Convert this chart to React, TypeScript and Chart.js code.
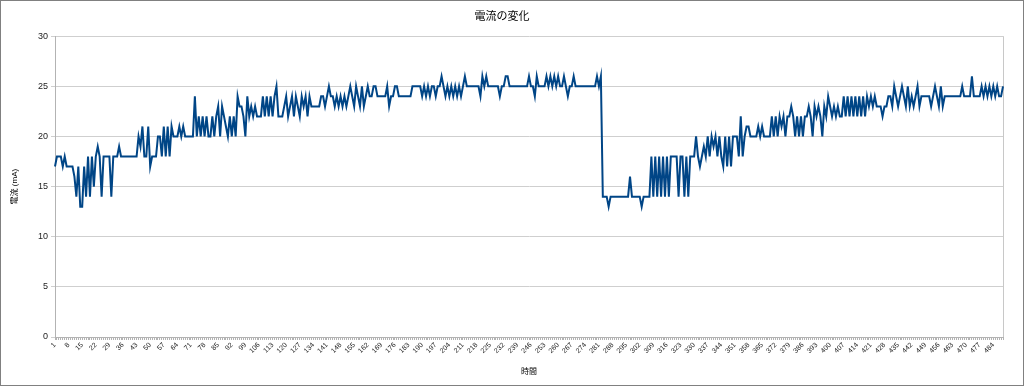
import { useEffect, useRef } from "react";
import { Chart, registerables } from "chart.js";

Chart.register(...registerables);

const FONT = '"Liberation Sans", "DejaVu Sans", "Noto Sans CJK JP", sans-serif';

const chartTitle = "電流の変化";
const yAxisTitle = "電流 (mA)";
const xAxisTitle = "時間";

// 電流 (mA) — first run, samples 1–282
const currentA = [
  17, 18, 18, 18, 17, 18, 17, 17, 17, 17,
  16, 14, 17, 13, 13, 17, 14, 18, 14, 18,
  15, 18, 19, 18, 14, 18, 18, 18, 18, 14,
  18, 18, 18, 19, 18, 18, 18, 18, 18, 18,
  18, 18, 18,
];
const currentB = [
  20, 19, 21, 18, 18, 21, 17, 18, 18, 18,
  20, 20, 18, 21, 18, 21, 18, 21, 20, 20,
  20, 21, 20, 21, 20, 20, 20, 20, 20, 24,
  20, 22, 20, 22, 20, 22, 20, 20, 22, 20,
  22, 23, 20, 23, 22,
];
const currentC = [
  21, 20, 22, 20, 22, 20, 24, 23, 23, 22,
  20, 24, 22, 23, 22, 23, 22, 22, 22, 24,
  22, 24, 22, 24, 22, 24, 25, 22, 22, 22,
  23, 24, 22, 23, 24, 22, 24, 23, 22, 24,
  23, 24, 22, 24, 23, 23,
];
const currentD = [
  23, 23, 23, 24, 24, 23, 24, 25, 24, 24,
  23, 24, 23, 24, 23, 24, 23, 24, 25, 24,
  23, 25, 24, 23, 25, 23, 24, 25, 24, 24,
  25, 25, 24, 24, 24, 24, 24, 25, 23, 24,
  24, 25, 25, 24, 24,
];
const currentE = [
  24, 24, 24, 24, 24, 25, 25, 25, 25, 25,
  24, 25, 24, 25, 24, 25, 25, 24, 25, 25,
  26, 25, 24, 25, 24, 25, 24, 25, 24, 25,
  24, 25, 26, 25, 25, 25, 25, 25, 25, 25,
  24, 26, 25, 26, 25, 25,
];
const currentF = [
  25, 25, 25, 25, 24, 25, 25, 26, 26, 25,
  25, 25, 25, 25, 25, 25, 25, 25, 25, 26,
  25, 25, 24, 26, 25, 25, 25, 25, 26, 25,
  26, 25, 26, 25, 26, 25, 25, 26, 25, 24,
  25, 25, 26, 25, 25,
];
const currentG = [25, 25, 25, 25, 25, 25, 25, 25, 25, 26, 25, 26];

// second run, samples 283–489
const currentH = [
  14, 14, 14, 13, 14, 14, 14, 14, 14, 14,
  14, 14, 14, 14, 16, 14, 14, 14, 14, 14,
  13, 14, 14, 14, 14, 18, 14, 18, 14, 18,
  14, 18, 14, 18,
];
const currentI = [
  14, 18, 18, 18, 18, 14, 18, 18, 14, 18,
  14, 18, 18, 18, 20, 18, 17, 18, 19, 18,
  20, 18, 20, 19, 20, 18, 20, 18, 17, 20,
  17, 20, 17, 20, 20, 20, 18, 22, 18, 20,
  21, 21, 20, 20, 20,
];
const currentJ = [
  20, 21, 20, 21, 20, 20, 20, 20, 22, 20,
  22, 20, 22, 21, 22, 20, 22, 22, 23, 22,
  20, 22, 20, 22, 20, 22, 22, 23, 22, 20,
  23, 22, 23, 22, 20, 23, 22, 24, 23, 22,
  23, 22, 23, 22, 22,
];
const currentK = [
  24, 22, 24, 22, 24, 22, 24, 22, 24, 22,
  24, 22, 24, 23, 24, 23, 24, 23, 23, 23,
  22, 23, 23, 24, 24, 23, 25, 24, 23, 24,
  25, 24, 23, 25, 23, 24, 23, 24, 25, 23,
  24, 24, 24, 24, 24, 23,
];
const currentL = [
  24, 25, 24, 23, 25, 23, 24, 24, 24, 24,
  24, 24, 24, 24, 24, 25, 24, 24, 24, 24,
  26, 24, 24, 24, 24, 25, 24, 25, 24, 25,
  24, 25, 24, 25, 24, 24, 25,
];

const current = [
  ...currentA, ...currentB, ...currentC, ...currentD, ...currentE, ...currentF, ...currentG,
  ...currentH, ...currentI, ...currentJ, ...currentK, ...currentL,
];

// time axis categories 1..N, label shown every 7th sample
const timeLabels = current.map((_, i) => String(i + 1));
const labelStep = 7;

const yMin = 0;
const yMax = 30;
const yStep = 5;

const framePlugin = {
  id: "frame",
  beforeDatasetsDraw(chart: any) {
    const { ctx, chartArea } = chart;
    ctx.save();
    ctx.strokeStyle = "#c8c8c8";
    ctx.lineWidth = 1;
    ctx.beginPath();
    ctx.moveTo(Math.round(chartArea.right) + 0.5, chartArea.top);
    ctx.lineTo(Math.round(chartArea.right) + 0.5, chartArea.bottom);
    ctx.stroke();
    ctx.restore();
  },
};

export default function App() {
  const ref = useRef<HTMLCanvasElement>(null);

  useEffect(() => {
    document.body.style.margin = "0";
    const canvas = ref.current;
    if (!canvas) return;
    const chart = new Chart(canvas, {
      type: "line",
      data: {
        labels: timeLabels,
        datasets: [
          {
            label: yAxisTitle,
            data: current,
            borderColor: "#004586",
            backgroundColor: "#004586",
            borderWidth: 2,
            pointRadius: 0,
            pointHoverRadius: 0,
            tension: 0,
            fill: false,
          },
        ],
      },
      options: {
        animation: false,
        responsive: false,
        maintainAspectRatio: false,
        layout: { padding: { left: 0, right: 20, top: 0, bottom: 0 } },
        plugins: {
          legend: { display: false },
          tooltip: { enabled: false },
          title: {
            display: true,
            text: chartTitle,
            color: "#000",
            font: { family: FONT, size: 11, weight: "normal" },
            padding: { top: 9, bottom: 13 },
          },
        },
        scales: {
          x: {
            type: "category",
            offset: false,
            grid: {
              drawOnChartArea: false,
              drawTicks: true,
              tickLength: 3,
              color: "#b3b3b3",
            },
            border: { color: "#b3b3b3" },
            ticks: {
              autoSkip: false,
              maxRotation: 45,
              minRotation: 45,
              padding: 1,
              color: "#222",
              font: { family: FONT, size: 7 },
              callback: (_v: any, i: number) => (i % labelStep === 0 ? timeLabels[i] : ""),
            },
            title: {
              display: true,
              text: xAxisTitle,
              color: "#000",
              font: { family: FONT, size: 8 },
              padding: { top: 0, bottom: 8 },
            },
            afterFit: (s: any) => {
              s.height = 48;
            },
          },
          y: {
            min: yMin,
            max: yMax,
            ticks: {
              stepSize: yStep,
              padding: 3,
              color: "#222",
              font: { family: FONT, size: 9 },
            },
            grid: { color: "#cfcfcf", tickLength: 4 },
            border: { color: "#b3b3b3" },
            title: {
              display: true,
              text: yAxisTitle,
              color: "#000",
              font: { family: FONT, size: 8 },
              padding: { top: 9, bottom: 0 },
            },
            afterFit: (s: any) => {
              s.width = 54;
            },
          },
        },
      },
      plugins: [framePlugin],
    });
    return () => chart.destroy();
  }, []);

  return (
    <div
      style={{
        width: 1024,
        height: 386,
        boxSizing: "border-box",
        border: "1px solid #808080",
        background: "#fff",
      }}
    >
      <canvas ref={ref} width={1022} height={384} style={{ display: "block", width: 1022, height: 384 }} />
    </div>
  );
}
